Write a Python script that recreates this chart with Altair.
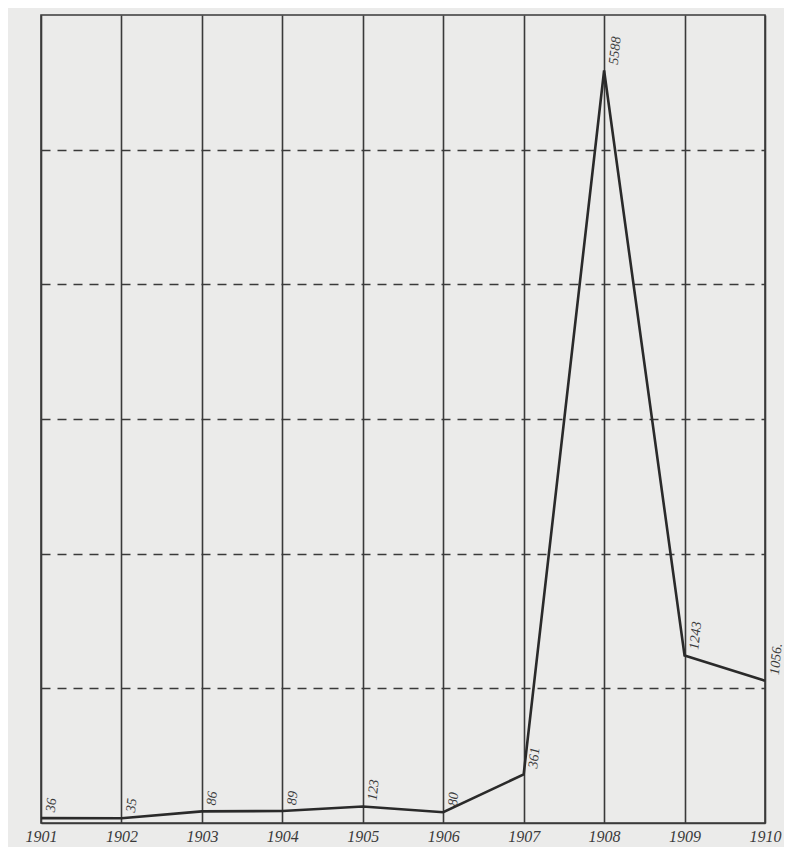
import altair as alt
import pandas as pd

years = [1901, 1902, 1903, 1904, 1905, 1906, 1907, 1908, 1909, 1910]
values = [36, 35, 86, 89, 123, 80, 361, 5588, 1243, 1056]
labels = ["36", "35", "86", "89", "123", "80", "361", "5588", "1243", "1056."]
grid_values = [1000, 2000, 3000, 4000, 5000]

df = pd.DataFrame({"year": years, "value": values, "label": labels})

INK = "#3a3a3a"
FONT = "Liberation Serif"

x = alt.X("year:Q",
          scale=alt.Scale(domain=[1901, 1910], nice=False, zero=False),
          axis=alt.Axis(values=years, format="d", title=None, grid=True,
                        gridColor=INK, gridWidth=1.6, gridOpacity=1,
                        ticks=False, domain=True, domainColor=INK, domainWidth=1.6,
                        labelFont=FONT, labelFontStyle="italic", labelFontSize=16,
                        labelColor=INK, labelPadding=5, labelFlush=False))
y = alt.Y("value:Q",
          scale=alt.Scale(domain=[0, 6000], nice=False),
          axis=alt.Axis(values=grid_values, title=None, labels=False, ticks=False,
                        grid=True, gridColor=INK, gridDash=[9, 7], gridWidth=1.4,
                        gridOpacity=1, domain=False))

base = alt.Chart(df)

line = base.mark_line(color="#2a2a2a", strokeWidth=2.6).encode(x=x, y=y)

text = base.mark_text(angle=276, align="left", baseline="top", dx=7, dy=2,
                      font=FONT, fontStyle="italic", fontSize=14, color=INK).encode(
    x=alt.X("year:Q", scale=alt.Scale(domain=[1901, 1910], nice=False, zero=False)),
    y=alt.Y("value:Q", scale=alt.Scale(domain=[0, 6000], nice=False)),
    text="label:N")

chart = (line + text).properties(
    width=724, height=808,
    padding={"left": 33, "top": 7, "right": 19, "bottom": 24},
    autosize=alt.AutoSizeParams(type="none"),
    background="#ebebea",
).configure_view(stroke=INK, strokeWidth=1.6)

chart.save("out.html", embed_options={"renderer": "svg", "actions": False})
